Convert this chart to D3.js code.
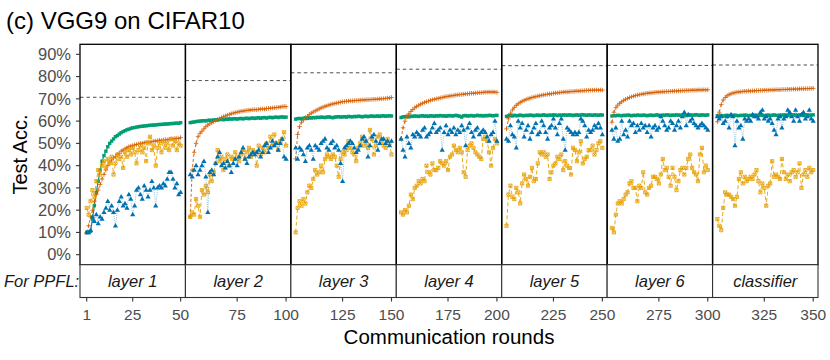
<!DOCTYPE html>
<html>
<head>
<meta charset="utf-8">
<script src="https://cdn.jsdelivr.net/npm/d3@7"></script>
<style>
  body { margin: 0; background: #fff; }
  text { font-family: 'Liberation Sans', Arial, Helvetica, sans-serif; }
</style>
</head>
<body>
<svg id="chart" width="830" height="360"></svg>
<script>

// Panels (strip labels) and axis ticks
const strip_labels = ['layer 1', 'layer 2', 'layer 3', 'layer 4', 'layer 5', 'layer 6', 'classifier']
const y_ticks = [0, 10, 20, 30, 40, 50, 60, 70, 80, 90]
const x_ticks = [[1, 25, 50], [75, 100], [125, 150], [175, 200], [225, 250], [275, 300], [325, 350]]

// Dashed reference accuracy per panel
const ref_acc = [70.7, 78.2, 81.7, 83.3, 84.9, 85.0, 85.2]

// Test accuracy (%), one row of 50 rounds per panel
const acc_green = [
  [10, 10, 10.5, 16, 22, 28, 33, 38, 42, 44.5, 46.5, 48.5, 50, 51, 52, 53, 53.5, 54.2, 54.8, 55.3, 55.7, 56.1, 56.4, 56.7, 57, 57.1, 57.3, 57.5, 57.6, 57.7, 57.8, 57.9, 58, 58.1, 58.2, 58.2, 58.3, 58.4, 58.5, 58.5, 58.6, 58.7, 58.7, 58.8, 58.9, 58.9, 59, 59.1, 59, 59.3],
  [59.3, 59.5, 59.6, 59.8, 59.9, 60, 60.1, 60.2, 60.1, 60.3, 60.4, 60.3, 60.5, 60.6, 60.5, 60.7, 60.8, 60.6, 60.9, 60.8, 61, 60.9, 61, 61.1, 60.9, 61.1, 61.2, 61, 61.2, 61.3, 61.1, 61.3, 61.4, 61.2, 61.4, 61.5, 61.3, 61.5, 61.6, 61.4, 61.6, 61.7, 61.5, 61.7, 61.8, 61.6, 61.8, 61.9, 61.7, 61.8],
  [60.9, 61.1, 61.2, 61.0, 61.3, 61.4, 61.2, 61.5, 61.4, 61.6, 61.5, 61.7, 61.6, 61.8, 61.7, 61.6, 61.8, 61.9, 61.7, 61.5, 61.8, 61.9, 62.0, 61.8, 61.9, 62.0, 61.8, 62.1, 62.0, 61.9, 62.1, 62.0, 62.2, 62.1, 61.9, 62.1, 62.2, 62.0, 62.2, 62.3, 62.1, 62.2, 62.3, 62.1, 62.3, 62.4, 62.2, 62.3, 62.4, 62.3],
  [61.6, 61.9, 62.0, 62.1, 61.9, 62.2, 62.1, 62.3, 62.2, 62.1, 62.3, 62.4, 62.2, 62.3, 62.1, 62.4, 62.3, 62.2, 62.4, 62.3, 62.5, 62.3, 62.4, 62.2, 62.4, 62.5, 62.3, 62.4, 62.6, 62.4, 62.2, 61.8, 62.4, 62.5, 62.3, 62.4, 62.5, 62.3, 62.4, 62.6, 62.4, 62.5, 62.3, 62.5, 62.4, 62.6, 62.5, 62.4, 62.5, 62.6],
  [62.1, 62.4, 62.5, 62.3, 62.6, 62.4, 62.5, 62.7, 62.5, 62.4, 62.6, 62.5, 62.7, 62.6, 62.4, 62.6, 62.7, 62.5, 62.6, 62.8, 62.6, 62.5, 62.7, 62.6, 62.8, 62.7, 62.5, 62.7, 62.6, 62.8, 62.7, 62.6, 62.8, 62.7, 62.5, 62.7, 62.8, 62.6, 62.7, 62.9, 62.7, 62.6, 62.8, 62.7, 62.6, 62.8, 62.7, 62.6, 62.8, 62.7],
  [62.3, 62.5, 62.4, 62.6, 62.5, 62.4, 62.6, 62.5, 62.7, 62.6, 62.4, 62.6, 62.5, 62.7, 62.6, 62.5, 62.7, 62.6, 62.4, 62.6, 62.7, 62.5, 62.6, 62.8, 62.6, 62.5, 62.7, 62.6, 62.8, 62.7, 62.5, 62.7, 62.6, 62.8, 62.7, 62.6, 62.8, 62.7, 62.5, 62.7, 62.8, 62.6, 62.7, 62.9, 62.7, 62.6, 62.8, 62.7, 62.6, 62.8],
  [62.4, 62.6, 62.5, 62.3, 62.5, 62.6, 62.4, 62.6, 62.5, 62.7, 62.5, 62.4, 62.6, 62.5, 62.7, 62.6, 62.4, 62.6, 62.5, 62.7, 62.6, 62.5, 62.7, 62.6, 62.4, 62.6, 62.7, 62.5, 62.6, 62.8, 62.6, 62.5, 62.7, 62.6, 62.8, 62.7, 62.5, 62.7, 62.6, 62.8, 62.7, 62.6, 62.8, 62.7, 62.5, 62.7, 62.8, 62.6, 62.7, 62.8]
]

const acc_orange = [
  [10, 13, 17, 20, 24, 27, 29, 31.5, 34, 36, 38, 40, 41.5, 42.5, 43.5, 44, 45, 45.5, 46.5, 47, 47.5, 48, 48.5, 48.8, 49, 49.3, 49.5, 49.7, 50, 50, 50.3, 50.5, 50.6, 50.5, 50.8, 51, 51, 51.2, 51.4, 51.3, 51.5, 51.7, 51.6, 51.8, 52, 52, 52.2, 52.3, 52.1, 52.6],
  [17, 38, 46, 50, 53, 54.5, 55.5, 56.5, 57.5, 58.2, 58.8, 59.3, 59.8, 60.3, 60.7, 61.1, 61.5, 62, 62.3, 62.7, 63, 63.3, 63.6, 63.8, 64, 64.2, 64.4, 64.5, 64.7, 64.8, 64.9, 65, 65.1, 65.2, 65.1, 65.3, 65.4, 65.5, 65.4, 65.6, 65.7, 65.8, 65.9, 66, 66.1, 66.2, 66.3, 66.5, 66.6, 66.5],
  [43, 54, 57.5, 59.5, 60.5, 61.5, 62.2, 63, 63.6, 64.1, 64.6, 65, 65.5, 65.9, 66.3, 66.6, 66.9, 67.2, 67.5, 67.7, 67.9, 68.1, 68.3, 68.5, 68.7, 68.8, 68.9, 69, 69.1, 69.1, 69.2, 69.3, 69.3, 69.4, 69.5, 69.5, 69.6, 69.6, 69.7, 69.7, 69.8, 69.8, 69.9, 70, 70, 70.1, 70.2, 70.3, 70.4, 70.6],
  [52, 57, 60, 62, 63.3, 64.3, 65.2, 66, 66.6, 67.1, 67.6, 68, 68.4, 68.7, 69, 69.3, 69.6, 69.8, 70, 70.2, 70.4, 70.6, 70.8, 71, 71.1, 71.3, 71.4, 71.5, 71.7, 71.8, 71.9, 72, 72.1, 72.2, 72.3, 72.4, 72.5, 72.5, 72.6, 72.7, 72.8, 72.8, 72.9, 73, 73, 73.1, 73, 73.1, 73, 72.9],
  [56.5, 61, 63.5, 65, 66.2, 67.1, 67.8, 68.4, 68.9, 69.3, 69.7, 70, 70.3, 70.6, 70.8, 71, 71.2, 71.4, 71.6, 71.8, 71.9, 72.1, 72.2, 72.3, 72.5, 72.6, 72.7, 72.8, 72.9, 73, 73.1, 73.1, 73.2, 73.3, 73.3, 73.4, 73.5, 73.5, 73.6, 73.6, 73.7, 73.8, 73.8, 73.9, 73.9, 73.9, 74, 73.9, 74, 73.9],
  [59.5, 64, 66, 67.2, 68, 68.7, 69.3, 69.8, 70.2, 70.6, 70.9, 71.2, 71.5, 71.7, 71.9, 72.1, 72.2, 72.4, 72.5, 72.6, 72.7, 72.8, 72.9, 73, 73, 73.1, 73.2, 73.2, 73.3, 73.3, 73.4, 73.4, 73.5, 73.5, 73.6, 73.6, 73.7, 73.7, 73.8, 73.8, 73.8, 73.9, 73.9, 73.9, 74, 74, 74, 74.1, 74, 74.1],
  [59.7, 64, 67.5, 69.5, 70.6, 71.4, 71.9, 72.3, 72.6, 72.8, 73, 73.1, 73.2, 73.3, 73.4, 73.4, 73.5, 73.5, 73.6, 73.6, 73.7, 73.7, 73.8, 73.8, 73.9, 73.9, 73.9, 74, 74, 74, 74.1, 74.1, 74.1, 74.2, 74.2, 74.2, 74.3, 74.3, 74.3, 74.4, 74.4, 74.4, 74.5, 74.5, 74.5, 74.6, 74.6, 74.6, 74.7, 74.7]
]

const acc_yellow = [
  [21, 18, 24, 29, 26, 33, 38, 36, 40, 42, 39, 43, 41, 44, 36, 41, 45, 43, 44, 39, 46, 44, 47, 45, 48, 46, 41, 47, 49, 46, 48, 42, 50, 53, 47, 49, 40, 48, 50, 46, 51, 48, 50, 47, 52, 49, 51, 47, 50, 49],
  [17, 19, 18, 25, 22, 17, 29, 27, 31, 28, 36, 33, 37, 41, 47, 42, 44, 38, 43, 45, 40, 44, 43, 46, 44, 42, 45, 47, 43, 46, 48, 44, 47, 46, 40, 49, 45, 48, 46, 50, 48, 53, 49, 54, 50, 47, 51, 52, 55, 49],
  [10, 21, 24, 22, 25, 23, 28, 31, 30, 34, 38, 36, 37, 40, 37, 43, 45, 44, 43, 45, 44, 40, 35, 43, 46, 45, 47, 51, 48, 46, 45, 42, 48, 50, 53, 49, 51, 48, 56, 52, 45, 49, 53, 54, 51, 49, 48, 52, 50, 45],
  [19, 18, 20, 19, 22, 27, 25, 30, 31, 33, 32, 34, 33, 40, 37, 36, 41, 38, 38, 39, 42, 41, 40, 42, 38, 44, 45, 49, 47, 46, 48, 46, 37, 35, 47, 49, 50, 48, 46, 45, 44, 43, 52, 53, 51, 46, 40, 48, 52, 50],
  [13, 27, 31, 26, 25, 30, 28, 23, 32, 36, 34, 31, 35, 39, 33, 34, 41, 46, 45, 46, 44, 45, 34, 37, 40, 41, 44, 43, 45, 38, 42, 40, 39, 36, 48, 47, 42, 46, 51, 41, 43, 44, 47, 47, 49, 45, 47, 50, 51, 48],
  [12, 10, 18, 23, 24, 23, 25, 27, 28, 32, 33, 30, 30, 24, 31, 30, 37, 28, 27, 30, 31, 35, 35, 34, 32, 36, 43, 38, 39, 35, 31, 39, 35, 29, 33, 38, 39, 36, 39, 43, 45, 39, 37, 36, 33, 45, 48, 37, 40, 38],
  [16, 13, 11, 21, 28, 27, 27, 26, 25, 22, 26, 34, 37, 32, 35, 33, 34, 35, 34, 36, 38, 33, 28, 32, 30, 22, 31, 32, 42, 35, 36, 35, 34, 43, 37, 34, 36, 33, 37, 38, 35, 37, 41, 30, 36, 38, 35, 39, 37, 38]
]

const acc_blue = [
  [10, 10, 11, 17, 15, 18, 14, 17, 16, 19, 21, 24, 20, 22, 19, 13, 20, 24, 26, 22, 23, 21, 27, 25, 18, 22, 29, 30, 27, 25, 31, 29, 26, 29, 33, 30, 22, 30, 31, 30, 32, 31, 34, 37, 37, 34, 30, 32, 27, 28],
  [36, 35, 38, 40, 36, 38, 40, 42, 35, 19, 37, 38, 36, 41, 44, 46, 40, 41, 39, 42, 40, 37, 41, 43, 40, 44, 46, 48, 43, 41, 44, 45, 46, 45, 46, 47, 44, 46, 49, 50, 46, 48, 51, 49, 50, 47, 50, 52, 44, 43],
  [48, 43, 48, 47, 45, 42, 48, 49, 47, 43, 49, 48, 47, 50, 51, 52, 48, 47, 50, 51, 48, 49, 47, 41, 33, 48, 49, 50, 51, 50, 48, 46, 47, 49, 52, 53, 51, 44, 49, 53, 54, 51, 47, 50, 52, 52, 50, 51, 49, 51],
  [52, 47, 44, 53, 50, 48, 54, 53, 55, 54, 53, 56, 57, 53, 54, 55, 57, 59, 55, 56, 57, 47, 55, 58, 54, 56, 55, 57, 54, 56, 55, 58, 56, 49, 57, 59, 55, 53, 56, 57, 54, 55, 56, 55, 53, 51, 54, 55, 60, 51],
  [52, 51, 58, 54, 53, 48, 60, 57, 59, 53, 56, 58, 52, 55, 57, 59, 54, 55, 60, 58, 55, 52, 57, 58, 61, 57, 54, 59, 61, 52, 47, 57, 56, 55, 54, 55, 54, 55, 61, 60, 58, 53, 56, 55, 56, 58, 57, 59, 57, 54],
  [56, 52, 57, 51, 52, 60, 54, 56, 53, 60, 58, 59, 55, 58, 56, 59, 57, 58, 55, 58, 53, 57, 58, 56, 57, 62, 60, 58, 56, 57, 60, 59, 56, 58, 60, 57, 62, 64, 58, 63, 60, 61, 59, 58, 57, 58, 59, 58, 57, 56],
  [62, 61, 62, 59, 60, 62, 57, 63, 62, 49, 60, 57, 58, 52, 61, 60, 61, 60, 63, 62, 62, 61, 64, 65, 61, 62, 60, 61, 59, 56, 54, 61, 62, 57, 61, 62, 65, 64, 62, 60, 65, 62, 60, 63, 64, 61, 62, 65, 61, 60]
]

// Layout
const plot_left = 80
const plot_right = 818
const plot_top = 44.3
const plot_bottom = 264.7
const strip_bottom = 297.5
const panel_w = (plot_right - plot_left) / strip_labels.length

const svg = d3.select('#chart')
svg.append('rect').attr('width', 830).attr('height', 360).attr('fill', '#fff')

let y = d3.scaleLinear().domain([-4.5, 94.5]).range([plot_bottom, plot_top])

// Marker shapes
function square_path(s) {
  return `M${-s},${-s}H${s}V${s}H${-s}Z`
}
function plus_path(s) {
  return `M${-s},0H${s}M0,${-s}V${s}`
}
function boxx_path(s) {
  return `M${-s},${-s}H${s}V${s}H${-s}ZM${-s},${-s}L${s},${s}M${s},${-s}L${-s},${s}`
}
function tri_path(s) {
  let h = s * 1.732
  return `M0,${-h * 0.62}L${s},${h * 0.38}L${-s},${h * 0.38}Z`
}

const series = [
  { data: acc_green, color: '#009E73', dash: null, width: 1.2, opacity: 1,
    marker: square_path(1.7), fill: '#009E73', mstroke: 'none' },
  { data: acc_orange, color: '#D55E00', dash: '3,2', width: 0.9, opacity: 1,
    marker: plus_path(2.3), fill: 'none', mstroke: '#D55E00' },
  { data: acc_yellow, color: '#E69F00', dash: '4,2.5', width: 0.9, opacity: 1,
    marker: boxx_path(1.6), fill: 'none', mstroke: '#E69F00' },
  { data: acc_blue, color: '#0072B2', dash: '1,1.2', width: 0.7, opacity: 0.6,
    marker: tri_path(2.6), fill: '#0072B2', mstroke: 'none' }
]

for (let [i, label] of strip_labels.entries()) {

  let x0 = plot_left + i * panel_w
  let dom = i === 0 ? [0, 50] : [50 * i + 1, 50 * i + 50]
  let pad = (dom[1] - dom[0]) * 0.05
  let x = d3.scaleLinear()
    .domain([dom[0] - pad, dom[1] + pad])
    .range([x0, x0 + panel_w])

  let panel = svg.append('g').attr('class', 'panel')

  // Reference accuracy
  panel.append('line')
    .attr('x1', x0).attr('x2', x0 + panel_w)
    .attr('y1', y(ref_acc[i])).attr('y2', y(ref_acc[i]))
    .attr('stroke', '#000')
    .attr('stroke-width', 0.7)
    .attr('stroke-dasharray', '3.5,3')

  let rounds = d3.range(50).map(j => 50 * i + j + 1)

  for (let s of series) {
    let vals = s.data[i]
    let pts = rounds.map((r, j) => [r, vals[j]])

    let line = d3.line()
      .x(d => x(d[0]))
      .y(d => y(d[1]))

    panel.append('path')
      .datum(pts)
      .attr('d', line)
      .attr('fill', 'none')
      .attr('stroke', s.color)
      .attr('stroke-width', s.width)
      .attr('stroke-opacity', s.opacity)
      .attr('stroke-dasharray', s.dash)

    panel.selectAll(null)
      .data(pts)
      .enter()
      .append('path')
        .attr('transform', d => `translate(${x(d[0])},${y(d[1])})`)
        .attr('d', s.marker)
        .attr('fill', s.fill)
        .attr('stroke', s.mstroke)
        .attr('stroke-width', 0.8)
  }

  // Panel border
  panel.append('rect')
    .attr('x', x0).attr('y', plot_top)
    .attr('width', panel_w).attr('height', plot_bottom - plot_top)
    .attr('fill', 'none')
    .attr('stroke', '#000')
    .attr('stroke-width', 1.3)

  // Strip
  panel.append('rect')
    .attr('x', x0).attr('y', plot_bottom)
    .attr('width', panel_w).attr('height', strip_bottom - plot_bottom)
    .attr('fill', '#fff')
    .attr('stroke', '#333')
    .attr('stroke-width', 1.1)
  panel.append('text')
    .attr('x', x0 + panel_w / 2)
    .attr('y', 287)
    .attr('text-anchor', 'middle')
    .attr('font-size', 16.5)
    .attr('font-style', 'italic')
    .attr('fill', '#1a1a1a')
    .text(label)

  // X ticks
  for (let t of x_ticks[i]) {
    svg.append('line')
      .attr('x1', x(t)).attr('x2', x(t))
      .attr('y1', strip_bottom).attr('y2', strip_bottom + 4)
      .attr('stroke', '#333')
      .attr('stroke-width', 1.1)
    svg.append('text')
      .attr('x', x(t))
      .attr('y', 319.5)
      .attr('text-anchor', 'middle')
      .attr('font-size', 15.5)
      .attr('fill', '#4d4d4d')
      .text(t)
  }
}

// Y axis
for (let t of y_ticks) {
  svg.append('line')
    .attr('x1', plot_left - 4).attr('x2', plot_left)
    .attr('y1', y(t)).attr('y2', y(t))
    .attr('stroke', '#333')
    .attr('stroke-width', 1.1)
  svg.append('text')
    .attr('x', plot_left - 9)
    .attr('y', y(t))
    .attr('dy', '0.35em')
    .attr('text-anchor', 'end')
    .attr('font-size', 16.5)
    .attr('fill', '#4d4d4d')
    .text(t + '%')
}

// Labels
svg.append('text')
  .attr('x', 4).attr('y', 287)
  .attr('font-size', 16.5)
  .attr('font-style', 'italic')
  .attr('fill', '#1a1a1a')
  .text('For PPFL:')

svg.append('text')
  .attr('transform', `translate(27,${(plot_top + plot_bottom) / 2}) rotate(-90)`)
  .attr('text-anchor', 'middle')
  .attr('font-size', 20)
  .attr('fill', '#000')
  .text('Test Acc.')

svg.append('text')
  .attr('x', (plot_left + plot_right) / 2)
  .attr('y', 344)
  .attr('text-anchor', 'middle')
  .attr('font-size', 20.5)
  .attr('fill', '#000')
  .text('Communication rounds')

svg.append('text')
  .attr('x', 6).attr('y', 28.5)
  .attr('font-size', 24)
  .attr('fill', '#000')
  .text('(c) VGG9 on CIFAR10')

</script>
</body>
</html>
